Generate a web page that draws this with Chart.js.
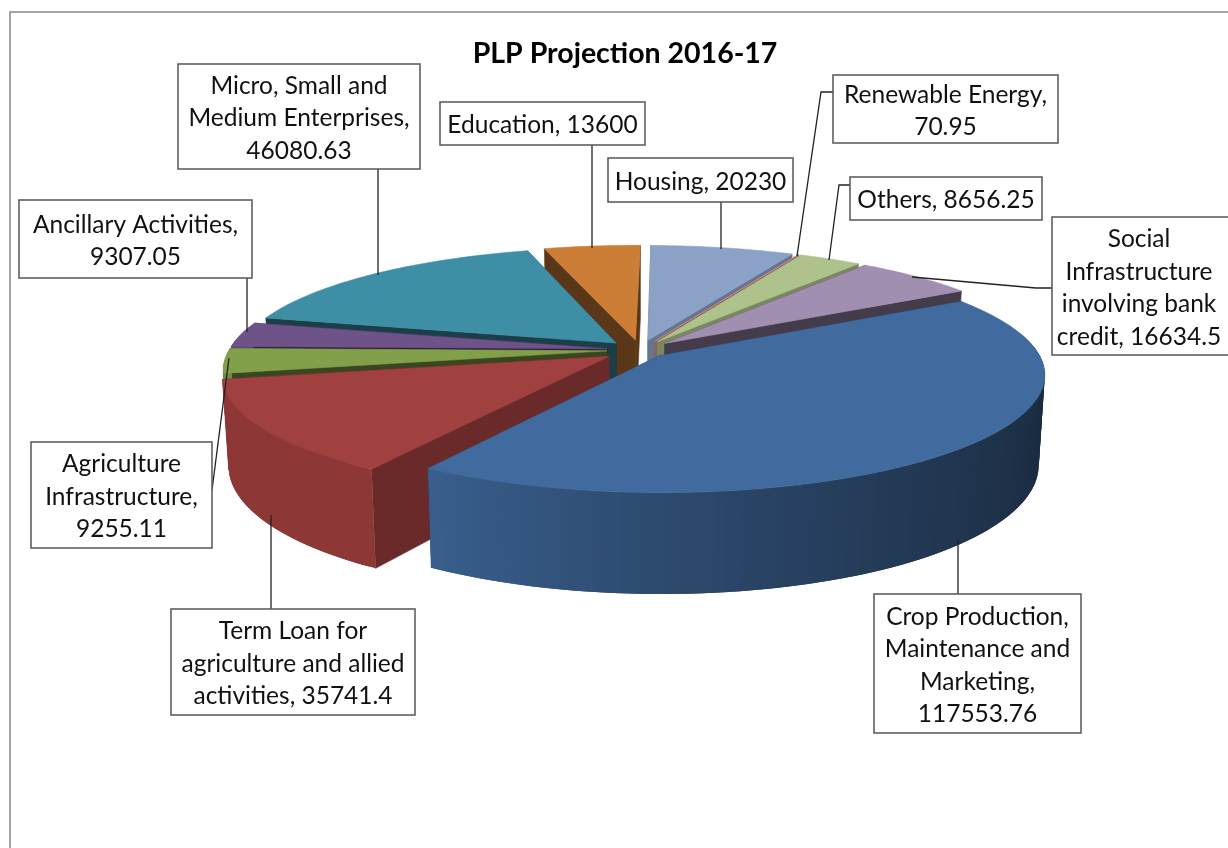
<!DOCTYPE html>
<html>
<head>
<meta charset="utf-8">
<title>PLP Projection 2016-17</title>
<script src="https://cdn.jsdelivr.net/npm/chart.js@4"></script>
<style>
html, body { margin: 0; padding: 0; background: #fff; overflow: hidden; }
canvas { display: block; }
</style>
</head>
<body>
<canvas id="plpChart" width="1228" height="848"></canvas>
<script>
var chartTitle = "PLP Projection 2016-17";

var categories = [
  "Crop Production, Maintenance and Marketing",
  "Term Loan for agriculture and allied activities",
  "Agriculture Infrastructure",
  "Ancillary Activities",
  "Micro, Small and Medium Enterprises",
  "Education",
  "Housing",
  "Renewable Energy",
  "Others",
  "Social Infrastructure involving bank credit"
];
var amounts = [117553.76, 35741.4, 9255.11, 9307.05, 46080.63, 13600, 20230, 70.95, 8656.25, 16634.5];

var sliceColors = ["#416B9F", "#A0403F", "#82A04A", "#6E5389", "#3E8EA6", "#CC7D36", "#8BA2C6", "#CF8B8A", "#AEC28C", "#A18FB1"];
var cutShades = [0.6, 0.66, 0.44, 0.42, 0.44, 0.44, 0.72, 0.7, 0.7, 0.42];
var explode = [26, 36, 32, 32, 32, 32, 32, 32, 32, 32];

var labelLines = [
  ["Crop Production,", "Maintenance and", "Marketing,", "117553.76"],
  ["Term Loan for", "agriculture and allied", "activities, 35741.4"],
  ["Agriculture", "Infrastructure,", "9255.11"],
  ["Ancillary Activities,", "9307.05"],
  ["Micro, Small and", "Medium Enterprises,", "46080.63"],
  ["Education, 13600"],
  ["Housing, 20230"],
  ["Renewable Energy,", "70.95"],
  ["Others, 8656.25"],
  ["Social", "Infrastructure", "involving bank", "credit, 16634.5"]
];
// x0, y0, x1, y1 of each callout box
var labelBoxes = [
  [874, 594, 1081, 733],
  [171, 609, 415, 715],
  [31, 442, 212, 548],
  [19, 200, 252, 278],
  [178, 64, 420, 169],
  [440, 102, 645, 145],
  [608, 158, 793, 202],
  [833, 75, 1058, 143],
  [850, 177, 1042, 220],
  [1052, 217, 1240, 355]
];
var leaderLines = [
  [[958, 594], [958, 540]],
  [[271, 609], [271, 515]],
  [[212, 490], [229, 358]],
  [[247, 278], [247, 332]],
  [[378, 169], [378, 275]],
  [[592, 145], [592, 248]],
  [[721, 202], [721, 249]],
  [[833, 92], [821, 92], [797, 256]],
  [[850, 185], [839, 185], [829, 260]],
  [[1052, 288], [1036, 288], [912, 277]]
];

// fake 3D view of the flat pie
var view = { cx: 640, cy: 350, radius: 378, tilt: 0.3076, persp: 6.33, depth: 87, bottomScale: 0.985 };

function shade(hex, f) {
  var n = parseInt(hex.slice(1), 16);
  return "rgb(" + Math.round((n >> 16) * f) + "," + Math.round(((n >> 8) & 255) * f) + "," + Math.round((n & 255) * f) + ")";
}

function project(X, Y, bottom) {
  var s = 1 + Y / (view.radius * view.persp);
  if (bottom) {
    return [view.cx + X * s * view.bottomScale, view.cy + Y * view.tilt * s + view.depth * s];
  }
  return [view.cx + X * s, view.cy + Y * view.tilt * s];
}

function wallShade(a) {
  var deg = ((a * 180 / Math.PI) % 360 + 360) % 360;
  if (deg > 180) {
    return deg > 270 ? 0.4 : 0.88;
  }
  return Math.min(0.88, 0.4 + 0.5 * Math.pow(deg / 125, 1.6));
}

function fillPoly(ctx, pts, color, noEdge) {
  ctx.beginPath();
  pts.forEach(function(p, i) {
    if (i === 0) ctx.moveTo(p[0], p[1]); else ctx.lineTo(p[0], p[1]);
  });
  ctx.closePath();
  ctx.fillStyle = color;
  ctx.fill();
  if (!noEdge) {
    ctx.strokeStyle = color;
    ctx.lineWidth = 0.6;
    ctx.stroke();
  }
}

function drawSlice(ctx, arc, i) {
  var scale = view.radius / arc.outerRadius;
  var mid = (arc.startAngle + arc.endAngle) / 2;
  var off = arc.options.offset * scale;
  var ox = Math.cos(mid) * off, oy = Math.sin(mid) * off;
  var steps = Math.max(1, Math.ceil((arc.endAngle - arc.startAngle) / 0.02));
  var top = [], low = [], k, a, X, Y, end;
  for (k = 0; k <= steps; k++) {
    a = arc.startAngle + (arc.endAngle - arc.startAngle) * k / steps;
    X = ox + Math.cos(a) * view.radius;
    Y = oy + Math.sin(a) * view.radius;
    top.push(project(X, Y, false));
    low.push(project(X, Y, true));
  }
  var tipTop = project(ox, oy, false), tipLow = project(ox, oy, true);
  var cut = shade(sliceColors[i], cutShades[i]);
  fillPoly(ctx, [tipTop, top[0], low[0], tipLow], cut);
  fillPoly(ctx, [tipTop, top[steps], low[steps], tipLow], cut);
  for (k = 0; k < steps; k++) {
    a = arc.startAngle + (arc.endAngle - arc.startAngle) * (k + 0.5) / steps;
    if (Math.sin(a) > -0.2) {
      // each strip overlaps the next so no seams show
      end = Math.min(k + 2, steps);
      fillPoly(ctx, [top[k], top[end], low[end], low[k]], shade(sliceColors[i], wallShade(a)), true);
    }
  }
  fillPoly(ctx, [tipTop].concat(top), sliceColors[i]);
}

var pie3d = {
  id: "pie3d",
  beforeDraw: function(chart) {
    var ctx = chart.ctx;
    ctx.save();
    ctx.strokeStyle = "#868686";
    ctx.lineWidth = 1.5;
    ctx.beginPath();
    ctx.moveTo(10, 848);
    ctx.lineTo(10, 12);
    ctx.lineTo(1228, 12);
    ctx.stroke();
    ctx.restore();
  },
  beforeDatasetsDraw: function(chart) {
    var ctx = chart.ctx;
    var arcs = chart.getDatasetMeta(0).data;
    var order = arcs.map(function(a, i) { return i; });
    order.sort(function(p, q) {
      return Math.sin((arcs[p].startAngle + arcs[p].endAngle) / 2) - Math.sin((arcs[q].startAngle + arcs[q].endAngle) / 2);
    });
    ctx.save();
    order.forEach(function(i) {
      drawSlice(ctx, arcs[i], i);
    });
    ctx.restore();
    return false;
  },
  afterDraw: function(chart) {
    var ctx = chart.ctx;
    ctx.save();
    ctx.strokeStyle = "#222";
    ctx.lineWidth = 1.3;
    leaderLines.forEach(function(line) {
      ctx.beginPath();
      line.forEach(function(p, i) {
        if (i === 0) ctx.moveTo(p[0], p[1]); else ctx.lineTo(p[0], p[1]);
      });
      ctx.stroke();
    });
    ctx.font = "24.5px Lato";
    ctx.textAlign = "center";
    ctx.textBaseline = "middle";
    labelBoxes.forEach(function(b, i) {
      ctx.fillStyle = "#fff";
      ctx.strokeStyle = "#5f5f5f";
      ctx.lineWidth = 1.6;
      ctx.fillRect(b[0], b[1], b[2] - b[0], b[3] - b[1]);
      ctx.strokeRect(b[0], b[1], b[2] - b[0], b[3] - b[1]);
      ctx.fillStyle = "#111";
      var lines = labelLines[i];
      var midX = i === 9 ? 1139 : (b[0] + b[2]) / 2;
      var midY = (b[1] + b[3]) / 2 + 2;
      lines.forEach(function(txt, n) {
        ctx.fillText(txt, midX, midY + (n - (lines.length - 1) / 2) * 32.5);
      });
    });
    ctx.restore();
  }
};

new Chart(document.getElementById("plpChart"), {
  type: "pie",
  data: {
    labels: categories,
    datasets: [{
      data: amounts,
      backgroundColor: sliceColors,
      offset: explode,
      borderWidth: 0
    }]
  },
  options: {
    responsive: false,
    animation: false,
    rotation: 60,
    events: [],
    layout: { padding: { left: 22 } },
    plugins: {
      legend: { display: false },
      tooltip: { enabled: false },
      title: {
        display: true,
        text: chartTitle,
        color: "#000",
        font: { family: "Lato", size: 28.5, weight: "bold" },
        padding: { top: 37, bottom: 10 }
      }
    }
  },
  plugins: [pie3d]
});
</script>
</body>
</html>
